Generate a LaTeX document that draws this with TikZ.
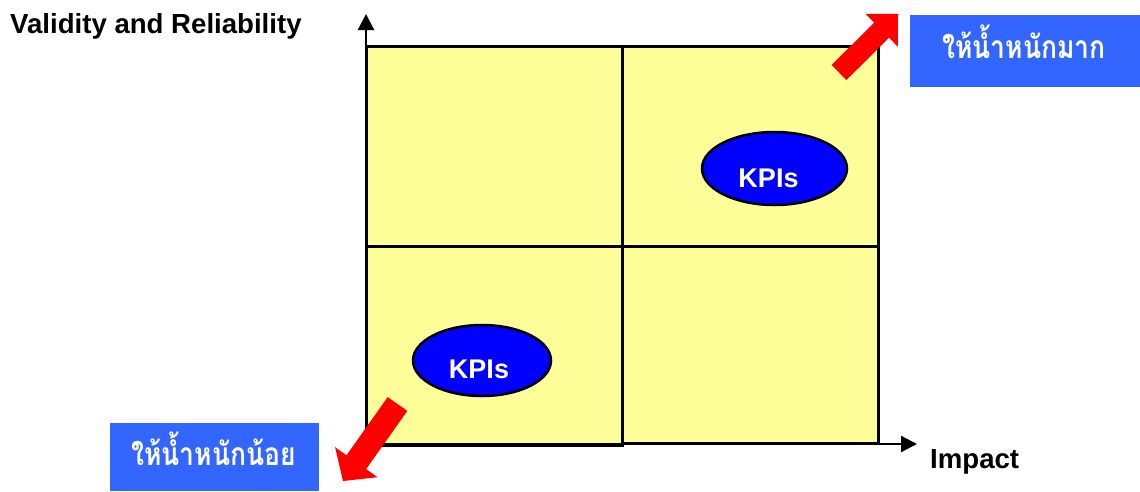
\documentclass[tikz,border=0pt]{standalone}
\usepackage{fontspec}
\usepackage{graphicx}
\setmainfont{Liberation Sans}
\newfontfamily\thaifont[Script=Thai]{Loma}
\usetikzlibrary{arrows.meta,shapes.geometric}
\definecolor{cellyellow}{HTML}{FFFF99}
\definecolor{kpiblue}{HTML}{0000FF}
\definecolor{boxblue}{HTML}{3366FF}
\definecolor{arrred}{HTML}{FF0000}
\begin{document}
\begin{tikzpicture}[x=1pt,y=-1pt,
  cell/.style={draw=black,line width=3pt,fill=cellyellow},
  axis/.style={draw=black,line width=2.2pt,-{Triangle[length=16pt,width=16pt]}},
  kpi/.style={ellipse,draw=black,line width=2.5pt,fill=kpiblue,text=white,
    font=\fontsize{27}{30}\selectfont\bfseries,inner sep=0pt,text depth=0pt},
  kpitext/.style={text=white,font=\fontsize{27}{30}\selectfont\bfseries,inner sep=0pt,anchor=base},
  thaitext/.style={text=white,font=\thaifont\bfseries\fontsize{26.5}{30}\selectfont,inner sep=0pt,anchor=base},
  axislabel/.style={font=\fontsize{27.6}{32}\selectfont\bfseries,inner sep=0pt,anchor=base west},
  bigarrow/.style={fill=arrred,draw=none}]
\useasboundingbox (0,0) rectangle (1140,491);
% grid cells
\path[cell] (366,46) rectangle (622,246);
\path[cell] (622,46) rectangle (878,246);
\path[cell] (366,246) rectangle (622,445);
\path[cell] (622,246) rectangle (878,443);
% axes
\coordinate (origin) at (366,444);
\coordinate (ytop) at (366,14);
\coordinate (xend) at (917,444);
\draw[axis] (origin) -- (ytop);
\draw[axis] (origin) -- (xend);
% axis labels
\node[axislabel] (ylabel) at (10,33) {Validity and Reliability};
\node[axislabel] (xlabel) at (930,468) {Impact};
% KPI ellipses
\node[kpi,minimum width=145pt,minimum height=73pt] (kpi1) at (774.5,168.5) {};
\node[kpitext] (kpi1label) at (768.5,187) {KPIs};
\node[kpi,minimum width=138pt,minimum height=71pt] (kpi2) at (482,360.5) {};
\node[kpitext] (kpi2label) at (479,378.5) {KPIs};
% red block arrows
\path[bigarrow] (846.4,80) -- (889,37.7) -- (897.8,46.6) -- (898,14) -- (865.4,13.8) -- (874.2,22.7) -- (831.6,65) -- cycle;
\path[bigarrow] (407.3,410.9) -- (366.1,469.1) -- (377.5,477.2) -- (343,481) -- (335.1,447.2) -- (346.5,455.3) -- (387.7,397.1) -- cycle;
% blue boxes
\path[fill=boxblue] (910,15) rectangle (1140,87);
\node[thaitext] (heavy) at (1024,58) {\scalebox{1}[1.2]{ให้น้ำหนักมาก}};
\path[fill=boxblue] (110,423) rectangle (319,491);
\node[thaitext] (light) at (213.5,465) {\scalebox{1}[1.2]{ให้น้ำหนักน้อย}};
\end{tikzpicture}
\end{document}
